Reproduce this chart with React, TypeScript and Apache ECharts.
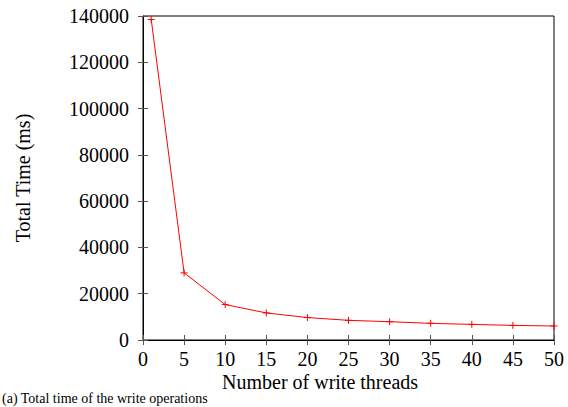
import React, { useEffect, useRef } from "react";
import * as echarts from "echarts";

const threads = [1, 5, 10, 15, 20, 25, 30, 35, 40, 45, 50];
const totalTime = [138500, 29000, 15300, 11700, 9700, 8500, 7900, 7200, 6750, 6300, 6050];
const xLabelName = "Number of write threads";
const yLabelName = "Total Time (ms)";
const caption = "(a) Total time of the write operations";

const FONT = "'Liberation Serif', 'DejaVu Serif', serif";

export default function App() {
  const ref = useRef<HTMLDivElement>(null);
  useEffect(() => {
    const chart = echarts.init(ref.current!, null, { renderer: "svg" });
    const tickStyle = { show: true, inside: true, length: 5, lineStyle: { color: "#555", width: 1 } };
    chart.setOption({
      animation: false,
      grid: { left: 143, right: 14, top: 16, bottom: 67, show: true, borderColor: "#000", borderWidth: 1 },
      xAxis: [
        {
          type: "value", min: 0, max: 50, interval: 5,
          axisLine: { show: true, lineStyle: { color: "#000", width: 1 } },
          axisTick: tickStyle,
          splitLine: { show: false },
          axisLabel: { color: "#000", fontFamily: FONT, fontSize: 20, margin: 9, formatter: (v: number) => String(v) },
        },
        {
          type: "value", min: 0, max: 50, interval: 5, position: "top",
          axisLine: { show: false }, axisTick: tickStyle, axisLabel: { show: false }, splitLine: { show: false },
        },
      ],
      yAxis: [
        {
          type: "value", min: 0, max: 140000, interval: 20000,
          name: yLabelName, nameLocation: "middle", nameGap: 110,
          nameTextStyle: { color: "#000", fontFamily: FONT, fontSize: 20 },
          axisLine: { show: true, lineStyle: { color: "#000", width: 1 } },
          axisTick: tickStyle,
          splitLine: { show: false },
          axisLabel: { color: "#000", fontFamily: FONT, fontSize: 20, margin: 14, formatter: (v: number) => String(v) },
        },
        {
          type: "value", min: 0, max: 140000, interval: 20000, position: "right",
          axisLine: { show: false }, axisTick: tickStyle, axisLabel: { show: false }, splitLine: { show: false },
        },
      ],
      graphic: [
        {
          type: "text", left: 320 - 98, top: 372,
          style: { text: xLabelName, fill: "#000", font: `20px ${FONT}` },
        },
        {
          type: "text", left: 2, top: 391,
          style: { text: caption, fill: "#000", font: `14px ${FONT}` },
        },
      ],
      series: [
        {
          type: "line",
          data: threads.map((t, i) => [t, totalTime[i]]),
          lineStyle: { color: "#ff0000", width: 1 },
          symbol: "path://M0,5L10,5M5,0L5,10",
          symbolSize: 7,
          itemStyle: { color: "none", borderColor: "#ff0000", borderWidth: 1 },
          clip: false,
        },
      ],
    });
    return () => chart.dispose();
  }, []);
  return <div ref={ref} style={{ width: 568, height: 407, position: "absolute", left: 0, top: 0 }} />;
}
